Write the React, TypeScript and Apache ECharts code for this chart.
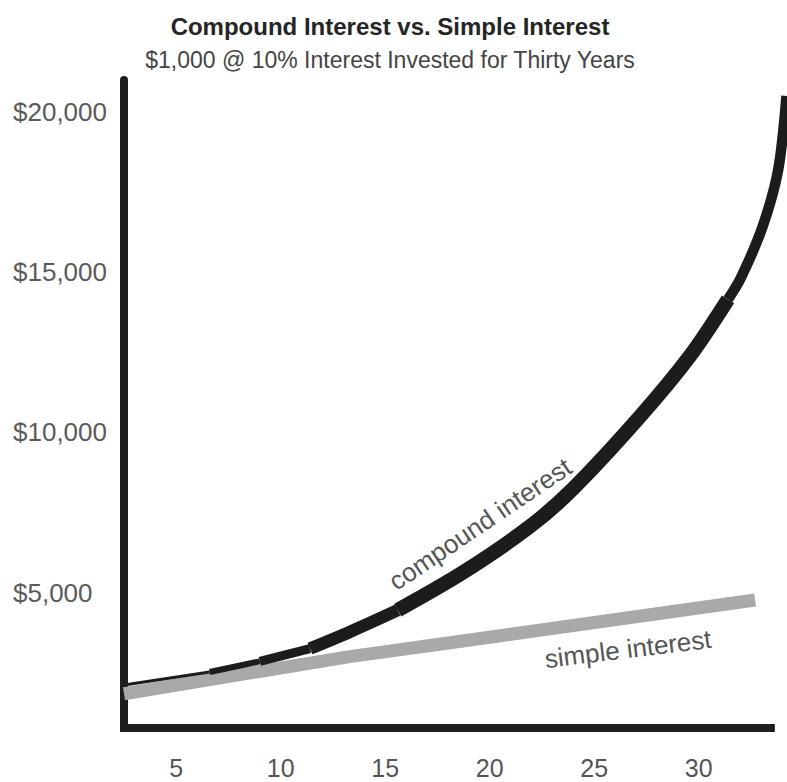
import React, { useEffect, useRef } from "react";
import * as echarts from "echarts";

const titleText = "Compound Interest vs. Simple Interest";
const subtitleText = "$1,000 @ 10% Interest Invested for Thirty Years";
const xTicks = [5, 10, 15, 20, 25, 30];
const yTicks = [5000, 10000, 15000, 20000];
const compoundYears = [2.5, 6.6, 9.0, 11.4, 13.3, 15.6, 18.7, 21.9, 24.0, 27.2, 29.6, 31.4, 32.0, 33.05, 33.8, 34.2];
const compoundValues = [2110, 2520, 2850, 3250, 3770, 4450, 5620, 7050, 8250, 10500, 12400, 14150, 14800, 16410, 18190, 20500];
const simpleYears = [2.5, 13.3, 18.1, 32.7];
const simpleValues = [1840, 3000, 3430, 4765];
const axisBaseValue = 770;
const axisEndYear = 33.45;
const compoundLabel = "compound interest";
const simpleLabel = "simple interest";

const FONT = "'Liberation Sans', Arial, Helvetica, sans-serif";

export default function App() {
  const ref = useRef<HTMLDivElement>(null);
  useEffect(() => {
    if (!ref.current) return;
    const chart = echarts.init(ref.current, null, { renderer: "svg" });
    const compound = compoundYears.map((x, i) => [x, compoundValues[i]]);
    const simple = simpleYears.map((x, i) => [x, simpleValues[i]]);
    const segs = [
      { from: 0, to: 1, w: 3 },
      { from: 1, to: 2, w: 6 },
      { from: 2, to: 3, w: 9 },
      { from: 3, to: 5, w: 12.5 },
      { from: 5, to: 11, w: 14.5 },
      { from: 11, to: compound.length - 1, w: 10.5 },
    ];
    const compoundSeries = segs.map((s) => ({
      type: "line",
      data: compound.slice(s.from, s.to + 1),
      showSymbol: false,
      symbol: "none",
      smooth: 0.3,
      clip: false,
      z: 3,
      lineStyle: { width: s.w, color: "#1c1c1c", cap: "butt", join: "round" },
    }));
    chart.setOption({
      animation: false,
      grid: { left: 124, right: 0.5, top: 80, bottom: 54, containLabel: false },
      xAxis: {
        type: "value",
        min: 2.5,
        max: 34.2,
        axisLine: { show: false },
        axisTick: { show: false },
        splitLine: { show: false },
        axisLabel: {
          customValues: xTicks,
          margin: 40,
          verticalAlign: "middle",
          color: "#555",
          fontSize: 25,
          fontFamily: FONT,
        },
      },
      yAxis: {
        type: "value",
        min: 770,
        max: 21000,
        axisLine: { show: true, lineStyle: { color: "#1e1e1e", width: 8 } },
        axisTick: { show: false },
        splitLine: { show: false },
        axisLabel: {
          customValues: yTicks,
          margin: 111,
          align: "left",
          color: "#5a5a5a",
          fontSize: 26,
          fontFamily: FONT,
          formatter: (v: number) => "$" + v.toLocaleString("en-US"),
        },
      },
      series: [
        {
          type: "line",
          data: simple,
          showSymbol: false,
          symbol: "none",
          clip: false,
          z: 2,
          lineStyle: { width: 13, color: "#a9a9a9", cap: "butt" },
          markLine: {
            silent: true,
            symbol: "none",
            label: { show: false },
            lineStyle: { type: "solid", width: 8, color: "#1e1e1e", cap: "square" },
            data: [[{ coord: [2.5, axisBaseValue] }, { coord: [axisEndYear, axisBaseValue] }]],
            z: 5,
          },
        },
        ...compoundSeries,
      ],
      graphic: [
        {
          type: "text",
          x: 390,
          y: 26,
          style: {
            text: titleText,
            font: `bold 24px ${FONT}`,
            fill: "#252525",
            align: "center",
            verticalAlign: "middle",
          },
        },
        {
          type: "text",
          x: 390,
          y: 60,
          style: {
            text: subtitleText,
            font: `23px ${FONT}`,
            fill: "#444",
            align: "center",
            verticalAlign: "middle",
          },
        },
        {
          type: "text",
          x: 480,
          y: 524,
          rotation: (34 * Math.PI) / 180,
          style: {
            text: compoundLabel,
            font: `26px ${FONT}`,
            fill: "#555",
            align: "center",
            verticalAlign: "middle",
          },
        },
        {
          type: "text",
          x: 628,
          y: 649,
          rotation: (7 * Math.PI) / 180,
          style: {
            text: simpleLabel,
            font: `26px ${FONT}`,
            fill: "#555",
            align: "center",
            verticalAlign: "middle",
          },
        },
      ],
    });
    return () => chart.dispose();
  }, []);
  return (
    <div
      ref={ref}
      style={{ position: "absolute", left: 0, top: 0, width: 787, height: 782, background: "#fff" }}
    />
  );
}
